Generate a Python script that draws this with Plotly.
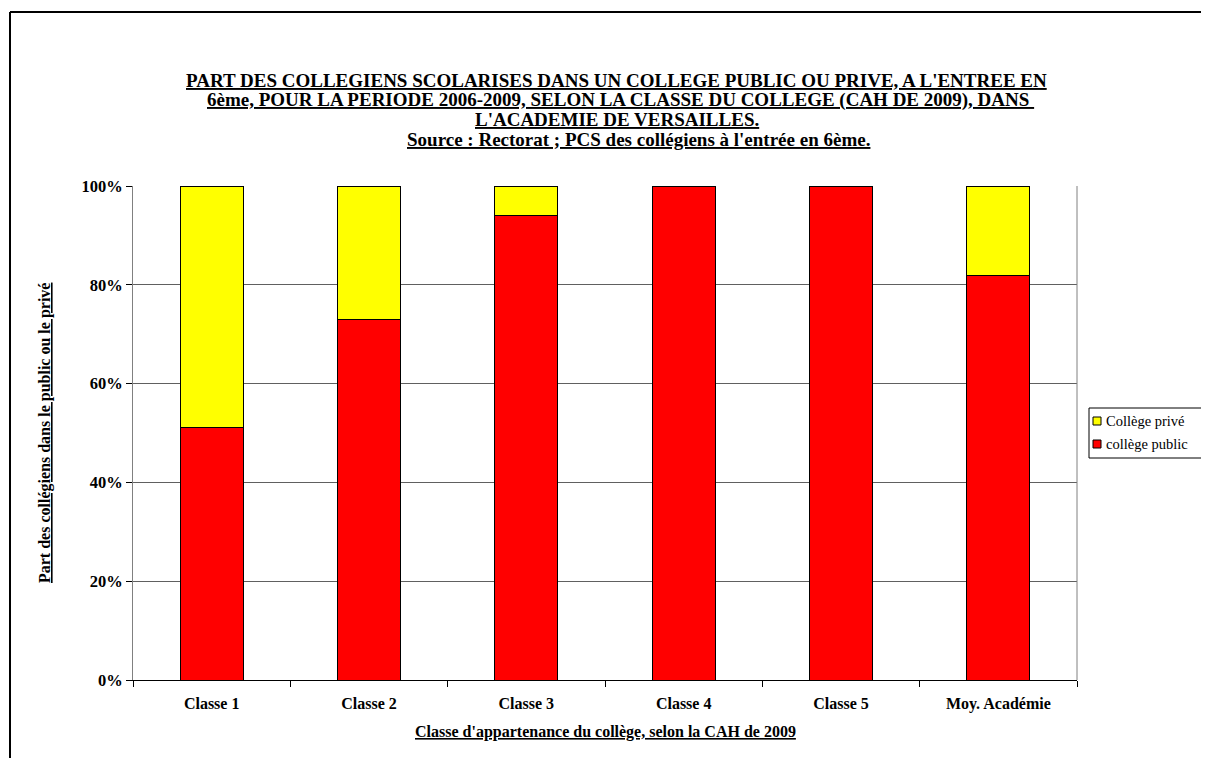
import plotly.graph_objects as go

categories = ["Classe 1", "Classe 2", "Classe 3", "Classe 4", "Classe 5", "Moy. Académie"]
public_vals = [51.2, 72.9, 94.1, 99.8, 100.0, 81.8]
prive_vals = [48.8, 27.1, 5.9, 0.2, 0.0, 18.2]
y_ticks = [0, 20, 40, 60, 80, 100]

OFF = 8  # page body margin
W, H = 1209 - OFF, 758 - OFF
# plot area in reference (screen) pixels
L, R, T, B = 133, 1077, 186, 680

def px(x):
    return (x - L) / (R - L)

def py(y):
    return (B - y) / (B - T)

FONT = "Liberation Serif, Times New Roman, serif"
RED, YEL = "#FF0000", "#FFFF00"

fig = go.Figure()
fig.add_trace(go.Bar(x=categories, y=public_vals, name="collège public", showlegend=False,
                     marker=dict(color=RED, line=dict(color="black", width=1))))
fig.add_trace(go.Bar(x=categories, y=prive_vals, name="Collège privé", showlegend=False,
                     marker=dict(color=YEL, line=dict(color="black", width=1))))

title_lines = [
    ("PART DES COLLEGIENS SCOLARISES DANS UN COLLEGE PUBLIC OU PRIVE, A L'ENTREE EN", 616, 80),
    ("6ème, POUR LA PERIODE 2006-2009, SELON LA CLASSE DU COLLEGE (CAH DE 2009), DANS ", 620, 100),
    ("L'ACADEMIE DE VERSAILLES.", 617, 119),
    ("Source : Rectorat ; PCS des collégiens à l'entrée en 6ème.", 638, 139),
]
annotations = []
for txt, cx, cy in title_lines:
    annotations.append(dict(text="<b><u>" + txt + "</u></b>", x=px(cx), y=py(cy), xref="paper", yref="paper",
                            xanchor="center", yanchor="middle", showarrow=False,
                            font=dict(family=FONT, size=19, color="black")))
annotations.append(dict(text="<b><u>Part des collégiens dans le public ou le privé</u></b>", x=px(45), y=py(433),
                        xref="paper", yref="paper", xanchor="center", yanchor="middle", textangle=-90,
                        showarrow=False, font=dict(family=FONT, size=16, color="black")))
annotations.append(dict(text="<b><u>Classe d'appartenance du collège, selon la CAH de 2009</u></b>", x=px(605), y=py(732),
                        xref="paper", yref="paper", xanchor="center", yanchor="middle",
                        showarrow=False, font=dict(family=FONT, size=16, color="black")))

shapes = [
    # outer chart border (top and left edges visible)
    dict(type="line", xref="paper", yref="paper", x0=px(10), x1=px(1300), y0=py(12), y1=py(12),
         line=dict(color="black", width=2), layer="below"),
    dict(type="line", xref="paper", yref="paper", x0=px(10), x1=px(10), y0=py(12), y1=py(800),
         line=dict(color="black", width=2), layer="below"),
    dict(type="line", xref="paper", yref="paper", x0=1, x1=1, y0=0, y1=1,
         line=dict(color="#808080", width=1)),
    # legend box
    dict(type="rect", xref="paper", yref="paper", x0=px(1089), x1=px(1204), y0=py(408), y1=py(458),
         line=dict(color="black", width=1), fillcolor="white"),
]
legend_items = [("Collège privé", YEL, 421), ("collège public", RED, 444)]
for name, col, cy in legend_items:
    shapes.append(dict(type="rect", xref="paper", yref="paper", x0=px(1093), x1=px(1101),
                       y0=py(cy - 4), y1=py(cy + 4), line=dict(color="black", width=1), fillcolor=col))
    annotations.append(dict(text=name, x=px(1104), y=py(cy), xref="paper", yref="paper",
                            xanchor="left", yanchor="middle", showarrow=False,
                            font=dict(family=FONT, size=14.5, color="black")))

fig.update_layout(
    width=W, height=H,
    margin=dict(l=L - OFF, r=W - (R - OFF), t=T - OFF, b=H - (B - OFF), pad=0),
    paper_bgcolor="white", plot_bgcolor="white",
    barmode="stack", bargap=0.6, showlegend=False,
    font=dict(family=FONT, color="black"),
    annotations=annotations, shapes=shapes,
    xaxis=dict(showline=True, linecolor="black", linewidth=1,
               ticks="outside", tickson="boundaries", ticklen=6, tickcolor="black",
               ticklabelstandoff=9,
               tickvals=categories, ticktext=[f"<b>{c}</b>" for c in categories],
               tickfont=dict(family=FONT, size=16, color="black"), showgrid=False),
    yaxis=dict(range=[0, 100], tickvals=y_ticks, ticktext=[f"<b>{v}%</b>" for v in y_ticks],
               showline=True, linecolor="#808080", linewidth=1,
               ticks="outside", ticklen=6, tickcolor="black",
               showgrid=True, gridcolor="#606060", gridwidth=1, zeroline=False,
               tickfont=dict(family=FONT, size=16.5, color="black")),
)

fig.write_html("out.html")
